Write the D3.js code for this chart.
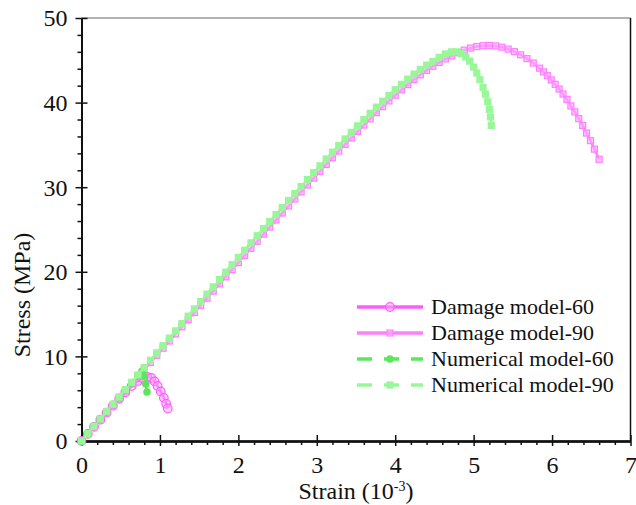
<!DOCTYPE html>
<html>
<head>
<meta charset="utf-8">
<script src="https://cdn.jsdelivr.net/npm/d3@7"></script>
<style>
  body { margin: 0; background: #fff; }
  text { font-family: "Liberation Serif", "Times New Roman", serif; fill: #111; }
</style>
</head>
<body>
<svg id="chart" width="636" height="505"></svg>
<script>
// ---------------- DATA ----------------
const xTicks = [0, 1, 2, 3, 4, 5, 6, 7];
const yTicks = [0, 10, 20, 30, 40, 50];

const damage60Strain = [0, 0.08, 0.16, 0.24, 0.32, 0.40, 0.48, 0.56, 0.64, 0.72, 0.78, 0.84, 0.89, 0.93, 0.97, 1.01, 1.05, 1.08, 1.10];
const damage60Stress = [0, 0.84, 1.68, 2.52, 3.35, 4.17, 4.98, 5.76, 6.50, 7.10, 7.42, 7.58, 7.45, 7.05, 6.50, 5.85, 5.10, 4.40, 3.85];

const damage90Strain = [
  0, 0.08, 0.16, 0.24, 0.32, 0.40, 0.48, 0.56, 0.64, 0.72, 0.80, 0.88, 0.96, 1.04, 1.12, 1.20,
  1.28, 1.36, 1.44, 1.52, 1.60, 1.68, 1.76, 1.84, 1.92, 2.00, 2.08, 2.16, 2.24, 2.32, 2.40,
  2.48, 2.56, 2.64, 2.72, 2.80, 2.88, 2.96, 3.04, 3.12, 3.20, 3.28, 3.36, 3.44, 3.52, 3.60,
  3.68, 3.76, 3.84, 3.92, 4.00, 4.08, 4.16, 4.24, 4.32, 4.40, 4.48, 4.56, 4.64, 4.72, 4.80,
  4.88, 4.96, 5.04, 5.12, 5.20, 5.28, 5.36, 5.44, 5.52, 5.60, 5.68, 5.76, 5.84, 5.89, 5.94,
  5.99, 6.04, 6.09, 6.14, 6.19, 6.24, 6.29, 6.34, 6.39, 6.44, 6.49, 6.54, 6.60
];
const damage90Stress = [
  0, 0.84, 1.69, 2.53, 3.38, 4.22, 5.06, 5.91, 6.75, 7.60, 8.44, 9.28, 10.13, 10.97, 11.82, 12.66,
  13.50, 14.35, 15.19, 16.04, 16.88, 17.72, 18.57, 19.41, 20.26, 21.09, 21.93, 22.77, 23.61, 24.45, 25.29,
  26.12, 26.95, 27.78, 28.61, 29.44, 30.26, 31.07, 31.88, 32.69, 33.49, 34.28, 35.06, 35.83, 36.60, 37.35,
  38.08, 38.81, 39.52, 40.20, 40.87, 41.51, 42.13, 42.72, 43.28, 43.81, 44.30, 44.75, 45.16, 45.53, 45.90,
  46.20, 46.45, 46.62, 46.72, 46.75, 46.70, 46.55, 46.32, 46.02, 45.65, 45.20, 44.68, 44.07, 43.63, 43.18,
  42.68, 42.16, 41.60, 41.01, 40.37, 39.60, 38.90, 38.10, 37.30, 36.40, 35.50, 34.50, 33.30
];

const numerical60Strain = [0, 0.08, 0.16, 0.24, 0.32, 0.40, 0.48, 0.56, 0.64, 0.72, 0.77, 0.80, 0.82, 0.835];
const numerical60Stress = [0, 0.87, 1.74, 2.61, 3.47, 4.33, 5.18, 6.03, 6.86, 7.66, 8.25, 7.70, 6.75, 5.80];

const numerical90Strain = [
  0, 0.08, 0.16, 0.24, 0.32, 0.40, 0.48, 0.56, 0.64, 0.72, 0.80, 0.88, 0.96, 1.04, 1.12, 1.20,
  1.28, 1.36, 1.44, 1.52, 1.60, 1.68, 1.76, 1.84, 1.92, 2.00, 2.08, 2.16, 2.24, 2.32, 2.40,
  2.48, 2.56, 2.64, 2.72, 2.80, 2.88, 2.96, 3.04, 3.12, 3.20, 3.28, 3.36, 3.44, 3.52, 3.60,
  3.68, 3.76, 3.84, 3.92, 4.00, 4.08, 4.16, 4.24, 4.32, 4.40, 4.48, 4.56, 4.64, 4.72, 4.78,
  4.84, 4.90, 4.95, 5.00, 5.04, 5.08, 5.12, 5.15, 5.18, 5.20, 5.215, 5.225
];
const numerical90Stress = [
  0, 0.86, 1.74, 2.60, 3.48, 4.34, 5.20, 6.08, 6.94, 7.82, 8.68, 9.54, 10.42, 11.28, 12.16, 13.02,
  13.88, 14.76, 15.62, 16.50, 17.36, 18.22, 19.10, 19.96, 20.84, 21.69, 22.55, 23.42, 24.26, 25.10, 25.94,
  26.77, 27.60, 28.43, 29.26, 30.09, 30.91, 31.72, 32.53, 33.34, 34.14, 34.93, 35.71, 36.48, 37.25, 38.00,
  38.73, 39.46, 40.17, 40.85, 41.52, 42.16, 42.78, 43.37, 43.93, 44.43, 44.88, 45.35, 45.75, 46.00, 46.00,
  45.80, 45.40, 44.90, 44.20, 43.50, 42.70, 41.80, 41.00, 40.10, 39.20, 38.30, 37.30
];

const seriesNames = ["Damage model-60", "Damage model-90", "Numerical model-60", "Numerical model-90"];

// ---------------- LAYOUT ----------------
const svg = d3.select("#chart");
const plotLeft = 81.5, plotRight = 630.5, plotTop = 18, plotBottom = 441;

const x = d3.scaleLinear().domain([0, 7]).range([plotLeft, plotRight]);
const y = d3.scaleLinear().domain([0, 50]).range([plotBottom, plotTop]);

// ---------------- AXES ----------------
const xMinor = d3.range(0, 7.001, 0.2).filter(v => Math.abs(v - Math.round(v)) > 1e-6);
const yMinor = d3.range(0, 50.001, 2).filter(v => v % 10 !== 0);

// frame: top (thin grey) and right
svg.append("line").attr("x1", plotLeft).attr("x2", plotRight).attr("y1", plotTop).attr("y2", plotTop)
  .attr("stroke", "#666").attr("stroke-width", 1);
svg.append("line").attr("x1", plotRight).attr("x2", plotRight).attr("y1", plotTop).attr("y2", plotBottom)
  .attr("stroke", "#111").attr("stroke-width", 1.5);

// x axis: minor outward, major crossing
const gx = svg.append("g").attr("transform", `translate(0,${plotBottom})`);
gx.append("g").call(d3.axisBottom(x).tickValues(xMinor).tickSize(4).tickSizeOuter(0).tickFormat(""));
gx.append("g").call(d3.axisBottom(x).tickValues(xTicks).tickSize(-6).tickSizeOuter(0).tickFormat(""));
gx.append("g").call(d3.axisBottom(x).tickValues(xTicks).tickSize(5).tickSizeOuter(0).tickFormat(d3.format("d")))
  .call(g => g.selectAll("text").attr("y", 32).attr("dy", 0).style("font-size", "24px"));
gx.selectAll(".domain").attr("stroke", "#111").attr("stroke-width", 2);
gx.selectAll(".tick line").attr("stroke", "#111").attr("stroke-width", 1.5);

// y axis
const gy = svg.append("g").attr("transform", `translate(${plotLeft},0)`);
gy.append("g").call(d3.axisLeft(y).tickValues(yMinor).tickSize(4).tickSizeOuter(0).tickFormat(""));
gy.append("g").call(d3.axisLeft(y).tickValues(yTicks).tickSize(-6).tickSizeOuter(0).tickFormat(""));
gy.append("g").call(d3.axisLeft(y).tickValues(yTicks).tickSize(6).tickSizeOuter(0).tickFormat(d3.format("d")))
  .call(g => g.selectAll("text").attr("x", -14).attr("dy", "0.33em").style("font-size", "24px"));
gy.selectAll(".domain").attr("stroke", "#111").attr("stroke-width", 2);
gy.selectAll(".tick line").attr("stroke", "#111").attr("stroke-width", 1.5);

// axis titles
const xTitle = svg.append("text").attr("x", 356).attr("y", 499)
  .attr("text-anchor", "middle").style("font-size", "24px");
xTitle.append("tspan").text("Strain (10");
xTitle.append("tspan").attr("dy", -8).style("font-size", "14px").text("-3");
xTitle.append("tspan").attr("dy", 8).text(")");

svg.append("text").attr("transform", "translate(30,295) rotate(-90)")
  .attr("text-anchor", "middle").style("font-size", "24px").text("Stress (MPa)");

// ---------------- CURVES ----------------
const line = d3.line().x(d => x(d[0])).y(d => y(d[1]));

const styles = [
  { color: "#ff5cff", fill: "rgba(255,170,255,0.5)", marker: "circle", r: 4.3, dash: null },
  { color: "#ff80ff", fill: "rgba(255,170,255,0.6)", marker: "square", r: 3, dash: null },
  { color: "#5ce65c", fill: "#5ce65c", marker: "circle", r: 3.8, dash: "15,12" },
  { color: "#99f799", fill: "#99f799", marker: "square", r: 3.6, dash: "15,12" }
];

const seriesData = [
  d3.zip(damage60Strain, damage60Stress),
  d3.zip(damage90Strain, damage90Stress),
  d3.zip(numerical60Strain, numerical60Stress),
  d3.zip(numerical90Strain, numerical90Stress)
];

function drawMarkers(g, pts, st, withStroke) {
  if (st.marker === "circle") {
    g.selectAll(null).data(pts).enter().append("circle")
      .attr("cx", d => d[0]).attr("cy", d => d[1]).attr("r", st.r)
      .attr("fill", st.fill)
      .attr("stroke", withStroke ? st.color : "none").attr("stroke-width", 1.2);
  } else {
    g.selectAll(null).data(pts).enter().append("rect")
      .attr("x", d => d[0] - st.r).attr("y", d => d[1] - st.r)
      .attr("width", st.r * 2).attr("height", st.r * 2)
      .attr("fill", st.fill)
      .attr("stroke", withStroke ? st.color : "none").attr("stroke-width", 1.2);
  }
}

seriesData.forEach((data, i) => {
  const st = styles[i];
  const g = svg.append("g");
  g.append("path").datum(data).attr("d", line)
    .attr("fill", "none").attr("stroke", st.color).attr("stroke-width", 2.5)
    .attr("stroke-dasharray", st.dash);
  drawMarkers(g, data.map(d => [x(d[0]), y(d[1])]), st, i < 2);
});

// ---------------- LEGEND ----------------
const legend = svg.append("g");
seriesNames.forEach((name, i) => {
  const st = styles[i];
  const ly = 307 + i * 26;
  legend.append("line").attr("x1", 357).attr("x2", 423).attr("y1", ly).attr("y2", ly)
    .attr("stroke", st.color).attr("stroke-width", 3.5)
    .attr("stroke-dasharray", st.dash);
  drawMarkers(legend, [[390, ly]], st, i < 2);
  legend.append("text").attr("x", 431).attr("y", ly).attr("dy", "0.33em")
    .style("font-size", "22px").text(name);
});
</script>
</body>
</html>
